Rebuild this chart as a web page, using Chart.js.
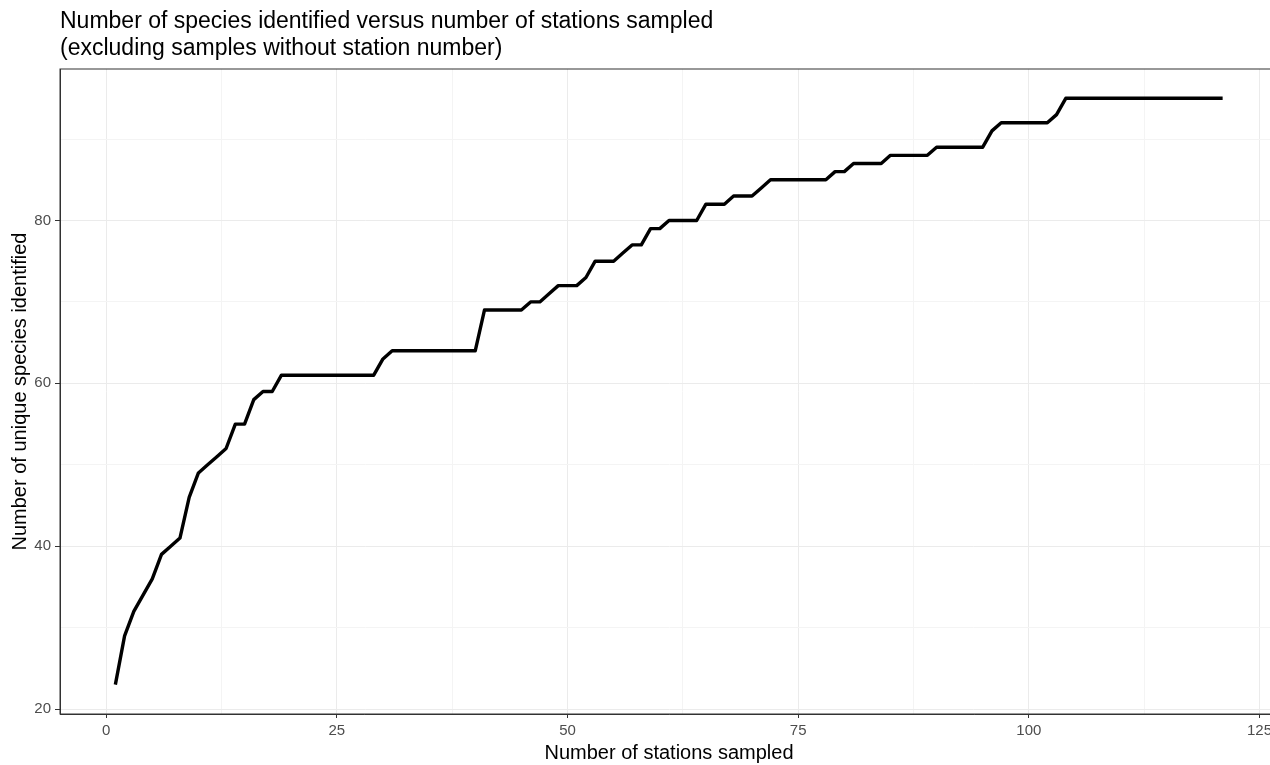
<!DOCTYPE html>
<html>
<head>
<meta charset="utf-8">
<title>Species accumulation</title>
<script src="https://cdn.jsdelivr.net/npm/chart.js@4"></script>
<style>
  html, body { margin: 0; padding: 0; background: #fff; overflow: hidden; }
  #wrap { width: 1290px; height: 765px; }
</style>
</head>
<body>
<div id="wrap"><canvas id="speciesChart" width="1290" height="765"></canvas></div>
<script>
// station count where the species total changes, and the total reached there
const stations = [1, 2, 3, 4, 5, 6, 7, 8, 9, 10, 11, 12, 13, 14, 15, 16, 17, 18, 19, 29, 30, 31, 40, 41, 45, 46, 47, 48, 49, 51, 52, 53, 55, 56, 57, 58, 59, 60, 61, 64, 65, 67, 68, 70, 71, 72, 78, 79, 80, 81, 84, 85, 89, 90, 95, 96, 97, 102, 103, 104, 121];
const species = [23, 29, 32, 34, 36, 39, 40, 41, 46, 49, 50, 51, 52, 55, 55, 58, 59, 59, 61, 61, 63, 64, 64, 69, 69, 70, 70, 71, 72, 72, 73, 75, 75, 76, 77, 77, 79, 79, 80, 80, 82, 82, 83, 83, 84, 85, 85, 86, 86, 87, 87, 88, 88, 89, 89, 91, 92, 92, 93, 95, 95];

const xMajor = [0, 25, 50, 75, 100, 125];
const xMinor = [12.5, 37.5, 62.5, 87.5, 112.5];
const yMajor = [20, 40, 60, 80];
const yMinor = [30, 50, 70, 90];

const titleLines = [
  'Number of species identified versus number of stations sampled',
  '(excluding samples without station number)'
];

const FONT = "'Liberation Sans', Arial, sans-serif";

const points = stations.map((s, i) => ({ x: s, y: species[i] }));

function tickSet(major, minor) {
  return major.concat(minor).sort((a, b) => a - b).map(v => ({ value: v }));
}

function gridColor(major) {
  return ctx => major.includes(ctx.tick.value) ? '#EBEBEB' : '#F4F4F4';
}
function tickColor(major) {
  return ctx => major.includes(ctx.tick.value) ? '#333333' : 'rgba(0,0,0,0)';
}

// title above the panel plus the panel outline
const frame = {
  id: 'frame',
  afterDraw(chart) {
    const { ctx, chartArea } = chart;
    ctx.save();
    ctx.strokeStyle = '#333333';
    ctx.lineWidth = 1;
    ctx.strokeRect(chartArea.left, chartArea.top, chartArea.right - chartArea.left, chartArea.bottom - chartArea.top);
    ctx.fillStyle = '#000';
    ctx.font = '23px ' + FONT;
    ctx.textBaseline = 'alphabetic';
    ctx.textAlign = 'left';
    ctx.fillText(titleLines[0], 60, 28);
    ctx.fillText(titleLines[1], 60, 55);
    ctx.restore();
  }
};

new Chart(document.getElementById('speciesChart'), {
  type: 'line',
  data: {
    datasets: [{
      data: points,
      borderColor: '#000',
      borderWidth: 3.4,
      borderJoinStyle: 'round',
      pointRadius: 0,
      tension: 0,
      fill: false
    }]
  },
  options: {
    responsive: false,
    animation: false,
    layout: { padding: { top: 69, right: 12, left: 0, bottom: 0 } },
    plugins: {
      legend: { display: false },
      tooltip: { enabled: false }
    },
    scales: {
      x: {
        type: 'linear',
        min: -5,
        max: 127,
        afterBuildTicks: s => { s.ticks = tickSet(xMajor, xMinor); },
        afterFit: s => { s.height = 51; },
        grid: { color: gridColor(xMajor), tickColor: tickColor(xMajor), tickLength: 4, lineWidth: 1 },
        border: { display: true, color: '#333333', width: 1 },
        ticks: {
          color: '#4D4D4D',
          font: { family: FONT, size: 15 },
          padding: 4,
          maxRotation: 0,
          autoSkip: false,
          callback: v => xMajor.includes(v) ? String(v) : ''
        },
        title: {
          display: true,
          text: 'Number of stations sampled',
          color: '#000',
          font: { family: FONT, size: 20 },
          padding: { top: 0, bottom: 0 }
        }
      },
      y: {
        type: 'linear',
        min: 19.4,
        max: 98.6,
        afterBuildTicks: s => { s.ticks = tickSet(yMajor, yMinor); },
        afterFit: s => { s.width = 60; },
        grid: { color: gridColor(yMajor), tickColor: tickColor(yMajor), tickLength: 5, lineWidth: 1 },
        border: { display: true, color: '#333333', width: 1 },
        ticks: {
          color: '#4D4D4D',
          font: { family: FONT, size: 15 },
          padding: 4,
          autoSkip: false,
          callback: v => yMajor.includes(v) ? String(v) : ''
        },
        title: {
          display: true,
          text: 'Number of unique species identified',
          color: '#000',
          font: { family: FONT, size: 20 },
          padding: { top: 8, bottom: 0 }
        }
      }
    }
  },
  plugins: [frame]
});
</script>
</body>
</html>
